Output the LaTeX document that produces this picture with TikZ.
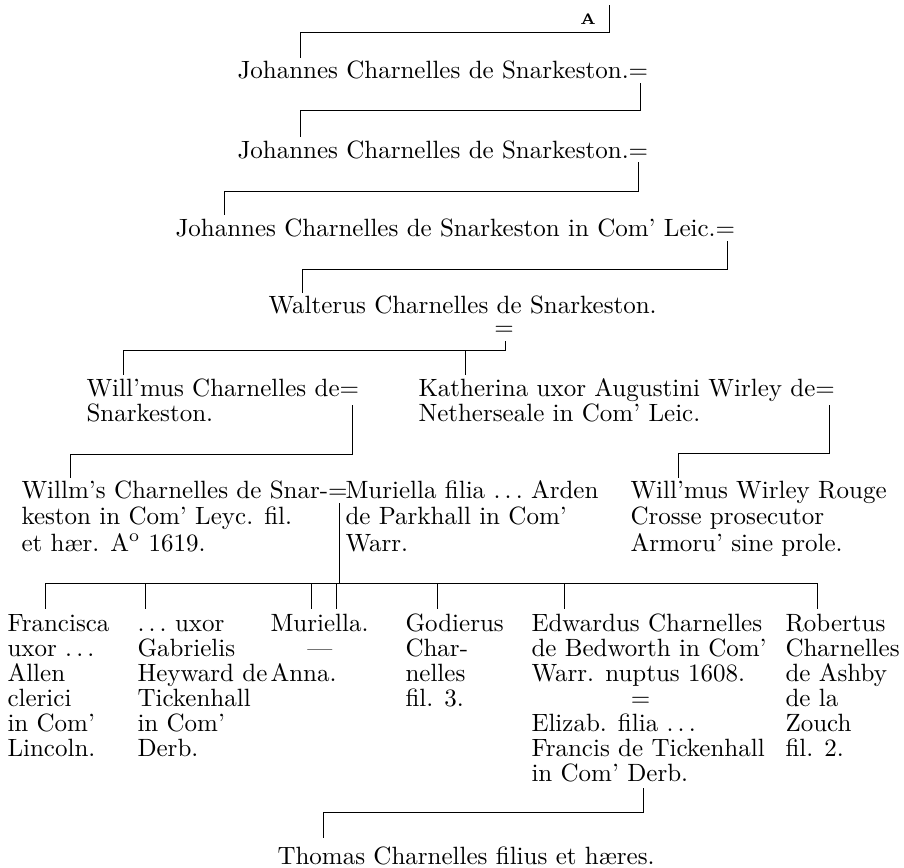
\documentclass[tikz,border=0pt]{standalone}
\usepackage{fontspec}
\usepackage{tikz}
\newcommand{\dts}{.\,.\,.}
\tikzset{
  entry/.style={inner sep=0pt, anchor=base west, align=left, font=\fontsize{10}{10}\selectfont},
  wide/.style={entry, font=\fontsize{10}{10.6}\selectfont},
  line/.style={black, line width=0.4pt},
}

\begin{document}
\begin{tikzpicture}[x=0.4pt,y=-0.4pt]
  \useasboundingbox (0,0) rectangle (904,867);

  % multi-line nodes sit on the baseline of their last line
  \node[font=\fontsize{6}{6}\bfseries\selectfont, inner sep=0pt] (mark) at (588,19) {A};
  \node[entry] (john1) at (237,78) {Johannes Charnelles de Snarkeston.=};
  \node[entry] (john2) at (237,158) {Johannes Charnelles de Snarkeston.=};
  \node[entry] (john3) at (175,236) {Johannes Charnelles de Snarkeston in Com' Leic.=};
  \node[entry] (walt) at (268,313) {Walterus Charnelles de Snarkeston.};
  \node[entry, anchor=base] (waltwed) at (504,335) {=};
  \node[entry] (will) at (86,421) {Will'mus Charnelles de=\\Snarkeston.};
  \node[entry] (kath) at (418,421) {Katherina uxor Augustini Wirley de=\\Netherseale in Com' Leic.};
  \node[wide] (willms) at (21,551) {Willm's Charnelles de Snar-=\\keston in Com' Leyc. fil.\\et hær. A\textsuperscript{o} 1619.};
  \node[wide] (muri) at (345,551) {Muriella filia \dts\ Arden\\de Parkhall in Com'\\Warr.};
  \node[wide] (wirley) at (630,551) {Will'mus Wirley Rouge\\Crosse prosecutor\\Armoru' sine prole.};

  % children
  \node[entry] (fran) at (7,756) {Francisca\\uxor \dts\\Allen\\clerici\\in Com'\\Lincoln.};
  \node[entry] (gabr) at (137,756) {\dts\ uxor\\Gabrielis\\Heyward de\\Tickenhall\\in Com'\\Derb.};
  \node[entry] (muriel) at (270,681) {Muriella.\\\hphantom{Mu}---\\Anna.};
  \node[entry] (godi) at (405,706) {Godierus\\Char-\\nelles\\fil. 3.};
  \node[entry] (edw) at (531,781) {Edwardus Charnelles\\de Bedworth in Com'\\Warr. nuptus 1608.\\\hspace*{39.7pt}=\\Elizab. filia \dts\\Francis de Tickenhall\\in Com' Derb.};
  \node[entry] (rob) at (785,756) {Robertus\\Charnelles\\de Ashby\\de la\\Zouch\\fil. 2.};
  \node[entry] (thom) at (277,864) {Thomas Charnelles filius et hæres.};

  \coordinate (t0) at (609,5);   \coordinate (b0) at (300,32);  \coordinate (e0) at (300,58);
  \coordinate (t1) at (640,83);  \coordinate (b1) at (300,110); \coordinate (e1) at (300,137);
  \coordinate (t2) at (638,162); \coordinate (b2) at (224,191); \coordinate (e2) at (224,215);
  \coordinate (t3) at (727,241); \coordinate (b3) at (302,269); \coordinate (e3) at (302,293);
  \coordinate (t4) at (505,341); \coordinate (b4) at (123,350); \coordinate (e4) at (123,375);
  \coordinate (e4b) at (465,375);
  \coordinate (t5) at (352,405); \coordinate (b5) at (70,454);  \coordinate (e5) at (70,478);
  \coordinate (t6) at (829,405); \coordinate (b6) at (678,453); \coordinate (e6) at (678,478);
  \coordinate (t7) at (339,503); \coordinate (bar) at (45,583); \coordinate (barend) at (817,583);
  \coordinate (t8) at (643,788); \coordinate (b8) at (323,812); \coordinate (e8) at (323,838);

  \draw[line] (t0) |- (b0) -- (e0);
  \draw[line] (t1) |- (b1) -- (e1);
  \draw[line] (t2) |- (b2) -- (e2);
  \draw[line] (t3) |- (b3) -- (e3);
  \draw[line] (t4) |- (b4) -- (e4);
  \draw[line] (e4b |- b4) -- (e4b);
  \draw[line] (t5) |- (b5) -- (e5);
  \draw[line] (t6) |- (b6) -- (e6);
  \draw[line] (t7) -- (t7 |- bar);
  \draw[line] (bar) -- (barend);
  \foreach \x [count=\i] in {45,145,311,336,437,564,817} {
    \coordinate (drop\i) at (\x,609);
    \draw[line] (drop\i |- bar) -- (drop\i);
  }
  \draw[line] (t8) |- (b8) -- (e8);
\end{tikzpicture}
\end{document}
